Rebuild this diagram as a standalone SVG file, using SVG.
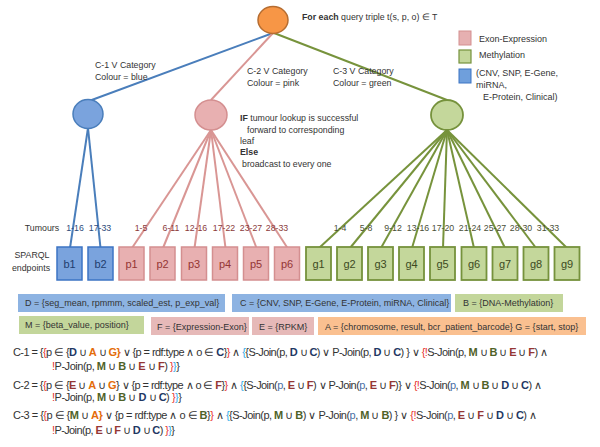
<svg xmlns="http://www.w3.org/2000/svg" width="600" height="447" viewBox="0 0 600 447">
<style>
text{font-family:"Liberation Sans",Arial,sans-serif;fill:#333}
.s{font-size:8.8px}
.lg{font-size:9px}
.bx{font-size:11px;text-anchor:middle}
.tl{font-size:8.8px;text-anchor:middle}
.f{font-size:11px}
.bl{stroke:#4a7ebb;stroke-width:2;fill:none}
.pl{stroke:#d99694;stroke-width:2;fill:none}
.gl{stroke:#77933c;stroke-width:2;fill:none}
.bb{fill:#7aa3dd;stroke:#3c74c4;stroke-width:1.5}
.pb{fill:#e8b0b1;stroke:#d48f90;stroke-width:1.5}
.gb{fill:#c4d79b;stroke:#76923c;stroke-width:1.8}
.r{fill:#e8322e}
.dr{fill:#953735;font-weight:bold}
.o{fill:#e46c0a;font-weight:bold}
.db{fill:#1f3864;font-weight:bold}
.g{fill:#4f6228;font-weight:bold}
.lb{fill:#31a8e8}
.pp{fill:#4a6fa5}
</style>
<g id="connectors">
<line class="bl" x1="273" y1="33" x2="89" y2="101"/>
<line class="pl" x1="273" y1="33" x2="211" y2="100"/>
<line class="gl" x1="274" y1="33" x2="447" y2="100"/>
<line class="bl" x1="88" y1="128" x2="70" y2="248"/>
<line class="bl" x1="88" y1="128" x2="100.5" y2="248"/>
<line class="pl" x1="211" y1="130" x2="132" y2="248"/>
<line class="pl" x1="211" y1="130" x2="163" y2="248"/>
<line class="pl" x1="211" y1="130" x2="194.5" y2="248"/>
<line class="pl" x1="211" y1="130" x2="225.5" y2="248"/>
<line class="pl" x1="211" y1="130" x2="256.5" y2="248"/>
<line class="pl" x1="211" y1="130" x2="287.5" y2="248"/>
<line class="gl" x1="447" y1="130" x2="319" y2="248"/>
<line class="gl" x1="447" y1="130" x2="350" y2="248"/>
<line class="gl" x1="447" y1="130" x2="381" y2="248"/>
<line class="gl" x1="447" y1="130" x2="412" y2="248"/>
<line class="gl" x1="447" y1="130" x2="443" y2="248"/>
<line class="gl" x1="447" y1="130" x2="474" y2="248"/>
<line class="gl" x1="447" y1="130" x2="505" y2="248"/>
<line class="gl" x1="447" y1="130" x2="536" y2="248"/>
<line class="gl" x1="447" y1="130" x2="567" y2="248"/>
</g>
<g id="root">
<ellipse cx="273" cy="20" rx="15" ry="13.5" fill="#f79646" stroke="#b66d31" stroke-width="1.5"/>
<text x="302" y="20" class="s"><tspan font-weight="bold">For each</tspan> query triple t(s, p, o) ∈ T</text>
</g>
<g id="cat-blue">
<ellipse cx="88" cy="114" rx="15" ry="14.5" fill="#7aa3dd" stroke="#4a7ebb" stroke-width="1.5"/>
<text x="95" y="68" class="s">C-1 V Category</text>
<text x="95" y="80" class="s">Colour = blue</text>
</g>
<g id="cat-pink">
<ellipse cx="211" cy="115" rx="16" ry="15" fill="#e8b0b1" stroke="#d48f90" stroke-width="1.5"/>
<text x="247" y="74" class="s">C-2 V Category</text>
<text x="247" y="86" class="s">Colour = pink</text>
<text x="240" y="121" class="s"><tspan font-weight="bold">IF</tspan> tumour lookup is successful</text>
<text x="247" y="133" class="s">forward to corresponding</text>
<text x="240" y="144" class="s">leaf</text>
<text x="240" y="155" class="s" font-weight="bold">Else</text>
<text x="242" y="167" class="s">broadcast to every one</text>
</g>
<g id="cat-green">
<ellipse cx="447" cy="115" rx="16" ry="15" fill="#c4d79b" stroke="#76923c" stroke-width="1.8"/>
<text x="333" y="74" class="s">C-3 V Category</text>
<text x="333" y="86" class="s">Colour = green</text>
</g>
<g id="legend">
<rect x="459" y="31" width="12" height="14" fill="#e6b0b1" stroke="#d48f90" stroke-width="1"/>
<text x="479" y="42" class="lg">Exon-Expression</text>
<rect x="459" y="50" width="12" height="13" fill="#c4d79b" stroke="#76923c" stroke-width="1.2"/>
<text x="479" y="58" class="lg">Methylation</text>
<rect x="459" y="69" width="12" height="14" fill="#6f9fdc" stroke="#3c74c4" stroke-width="1"/>
<text x="476" y="76" class="lg">(CNV, SNP, E-Gene,</text>
<text x="476" y="88" class="lg">miRNA,</text>
<text x="483" y="100" class="lg">E-Protein, Clinical)</text>
</g>
<g id="row-labels">
<text x="42" y="231" class="tl" fill="#333">Tumours</text>
<text x="32" y="258" class="tl">SPARQL</text>
<text x="31" y="271" class="tl">endpoints</text>
</g>
<g id="tumour-labels" class="tl">
<text x="75" y="231" class="tl" style="fill:#2e4a7a">1-16</text>
<text x="100" y="231" class="tl" style="fill:#2e4a7a">17-33</text>
<text x="141" y="231" class="tl" style="fill:#8b3a3a">1-5</text>
<text x="171" y="231" class="tl" style="fill:#8b3a3a">6-11</text>
<text x="196" y="231" class="tl" style="fill:#8b3a3a">12-16</text>
<text x="224" y="231" class="tl" style="fill:#8b3a3a">17-22</text>
<text x="251" y="231" class="tl" style="fill:#8b3a3a">23-27</text>
<text x="277" y="231" class="tl" style="fill:#8b3a3a">28-33</text>
<text x="340" y="231" class="tl" style="fill:#4a4f38">1-4</text>
<text x="366" y="231" class="tl" style="fill:#4a4f38">5-8</text>
<text x="393" y="231" class="tl" style="fill:#4a4f38">9-12</text>
<text x="418" y="231" class="tl" style="fill:#4a4f38">13-16</text>
<text x="443" y="231" class="tl" style="fill:#4a4f38">17-20</text>
<text x="470" y="231" class="tl" style="fill:#4a4f38">21-24</text>
<text x="495" y="231" class="tl" style="fill:#4a4f38">25-27</text>
<text x="521" y="231" class="tl" style="fill:#4a4f38">28-30</text>
<text x="548" y="231" class="tl" style="fill:#4a4f38">31-33</text>
</g>
<g id="b1"><rect class="bb" x="57" y="247" width="25" height="33"/><text x="69.5" y="268" class="bx" style="fill:#1f3d6e">b1</text></g>
<g id="b2"><rect class="bb" x="88" y="247" width="25" height="33"/><text x="100.5" y="268" class="bx" style="fill:#1f3d6e">b2</text></g>
<g id="p1"><rect class="pb" x="119" y="247" width="25" height="33"/><text x="131.5" y="268" class="bx" style="fill:#943634">p1</text></g>
<g id="p2"><rect class="pb" x="150" y="247" width="25" height="33"/><text x="162.5" y="268" class="bx" style="fill:#943634">p2</text></g>
<g id="p3"><rect class="pb" x="181.5" y="247" width="25" height="33"/><text x="194" y="268" class="bx" style="fill:#943634">p3</text></g>
<g id="p4"><rect class="pb" x="212.5" y="247" width="25" height="33"/><text x="225" y="268" class="bx" style="fill:#943634">p4</text></g>
<g id="p5"><rect class="pb" x="243.5" y="247" width="25" height="33"/><text x="256" y="268" class="bx" style="fill:#943634">p5</text></g>
<g id="p6"><rect class="pb" x="274.5" y="247" width="25" height="33"/><text x="287" y="268" class="bx" style="fill:#943634">p6</text></g>
<g id="g1"><rect class="gb" x="306" y="247" width="25" height="33"/><text x="318.5" y="268" class="bx" style="fill:#3d4a22">g1</text></g>
<g id="g2"><rect class="gb" x="337" y="247" width="25" height="33"/><text x="349.5" y="268" class="bx" style="fill:#3d4a22">g2</text></g>
<g id="g3"><rect class="gb" x="368" y="247" width="25" height="33"/><text x="380.5" y="268" class="bx" style="fill:#3d4a22">g3</text></g>
<g id="g4"><rect class="gb" x="399" y="247" width="25" height="33"/><text x="411.5" y="268" class="bx" style="fill:#3d4a22">g4</text></g>
<g id="g5"><rect class="gb" x="430" y="247" width="25" height="33"/><text x="442.5" y="268" class="bx" style="fill:#3d4a22">g5</text></g>
<g id="g6"><rect class="gb" x="461.5" y="247" width="25" height="33"/><text x="474" y="268" class="bx" style="fill:#3d4a22">g6</text></g>
<g id="g7"><rect class="gb" x="492.5" y="247" width="25" height="33"/><text x="505" y="268" class="bx" style="fill:#3d4a22">g7</text></g>
<g id="g8"><rect class="gb" x="523.5" y="247" width="25" height="33"/><text x="536" y="268" class="bx" style="fill:#3d4a22">g8</text></g>
<g id="g9"><rect class="gb" x="554.5" y="247" width="25" height="33"/><text x="567" y="268" class="bx" style="fill:#3d4a22">g9</text></g>
<g id="sets">
<rect x="18" y="294" width="207" height="18" fill="#8db3e2"/>
<text x="25" y="306" class="lg">D = {seg_mean, rpmmm, scaled_est, p_exp_val}</text>
<rect x="232" y="294" width="219" height="18" fill="#8db3e2"/>
<text x="240" y="306" class="lg">C = {CNV, SNP, E-Gene, E-Protein, miRNA, Clinical}</text>
<rect x="455" y="294" width="108" height="18" fill="#c3d69b"/>
<text x="463" y="306" class="lg">B = {DNA-Methylation}</text>
<rect x="19" y="316" width="125" height="18" fill="#c3d69b"/>
<text x="25" y="328" class="lg">M = {beta_value, position}</text>
<rect x="151" y="317" width="98" height="18" fill="#e6b9b8"/>
<text x="157" y="330" class="lg">F = {Expression-Exon}</text>
<rect x="252" y="317" width="62" height="18" fill="#e6b9b8"/>
<text x="259" y="330" class="lg">E = {RPKM}</text>
<rect x="318" y="317" width="268" height="18" fill="#fac090"/>
<text x="325" y="330" class="lg">A = {chromosome, result, bcr_patient_barcode}  G = {start, stop}</text>
</g>
<g id="formulas">
<text x="13" y="356" class="f" textLength="535" lengthAdjust="spacing">C-1 = {<tspan class="r">{</tspan>p ∈ {<tspan class="db">D</tspan> ∪ <tspan class="o">A</tspan> ∪ <tspan class="o">G</tspan><tspan class="o">}</tspan> ∨ {p = rdf:type ∧ o ∈ <tspan class="db">C</tspan>}<tspan class="r">}</tspan> ∧ <tspan class="lb">{</tspan>{S-Join(p, <tspan class="db">D</tspan> ∪ <tspan class="db">C</tspan>) ∨ P-Join(p, <tspan class="db">D</tspan> ∪ <tspan class="db">C</tspan>) } ∨ <tspan class="r">{!</tspan>S-Join(p, <tspan class="g">M</tspan> ∪ <tspan class="g">B</tspan> ∪ <tspan class="dr">E</tspan> ∪ <tspan class="dr">F</tspan>) ∧</text>
<text x="52" y="370" class="f" textLength="128" lengthAdjust="spacing"><tspan class="r">!</tspan>P-Join(p, <tspan class="g">M</tspan> ∪ <tspan class="g">B</tspan> ∪ <tspan class="dr">E</tspan> ∪ <tspan class="dr">F</tspan>) <tspan class="r">}</tspan><tspan class="lb">}</tspan>}</text>
<text x="13" y="389" class="f" textLength="529" lengthAdjust="spacing">C-2 = {<tspan class="r">{</tspan>p ∈ {<tspan class="dr">E</tspan> ∪ <tspan class="o">A</tspan> ∪ <tspan class="o">G</tspan>} ∨ {p = rdf:type ∧ o ∈ <tspan class="dr">F</tspan>}<tspan class="r">}</tspan> ∧ <tspan class="lb">{</tspan>{S-Join(<tspan class="pp">p</tspan>, <tspan class="dr">E</tspan> ∪ <tspan class="dr">F</tspan>) ∨ P-Join(<tspan class="pp">p</tspan>, <tspan class="dr">E</tspan> ∪ <tspan class="dr">F</tspan>)} ∨ <tspan class="r">{!</tspan>S-Join(<tspan class="pp">p</tspan>, <tspan class="g">M</tspan> ∪ <tspan class="g">B</tspan> ∪ <tspan class="db">D</tspan> ∪ <tspan class="db">C</tspan>) ∧</text>
<text x="52" y="401" class="f" textLength="130" lengthAdjust="spacing"><tspan class="r">!</tspan>P-Join(p, <tspan class="g">M</tspan> ∪ <tspan class="g">B</tspan> ∪ <tspan class="db">D</tspan> ∪ <tspan class="db">C</tspan>) <tspan class="r">}</tspan><tspan class="lb">}</tspan>}</text>
<text x="13" y="419" class="f" textLength="524" lengthAdjust="spacing">C-3 = {<tspan class="r">{</tspan>p ∈ {<tspan class="g">M</tspan> ∪ <tspan class="o">A</tspan><tspan class="o">}</tspan> ∨ {p = rdf:type ∧ o ∈ <tspan class="g">B</tspan>}<tspan class="r">}</tspan> ∧ <tspan class="lb">{</tspan>{S-Join(p, <tspan class="g">M</tspan> ∪ <tspan class="g">B</tspan>)  ∨ P-Join(<tspan class="pp">p</tspan>, <tspan class="g">M</tspan> ∪ <tspan class="g">B</tspan>) } ∨ <tspan class="r">{!</tspan>S-Join(<tspan class="pp">p</tspan>, <tspan class="dr">E</tspan> ∪ <tspan class="dr">F</tspan> ∪ <tspan class="db">D</tspan> ∪ <tspan class="db">C</tspan>) ∧</text>
<text x="52" y="434" class="f" textLength="123" lengthAdjust="spacing"><tspan class="r">!</tspan>P-Join(p, <tspan class="dr">E</tspan> ∪ <tspan class="dr">F</tspan> ∪ <tspan class="db">D</tspan> ∪ <tspan class="db">C</tspan>) <tspan class="r">}</tspan><tspan class="lb">}</tspan>}</text>
</g>
</svg>
